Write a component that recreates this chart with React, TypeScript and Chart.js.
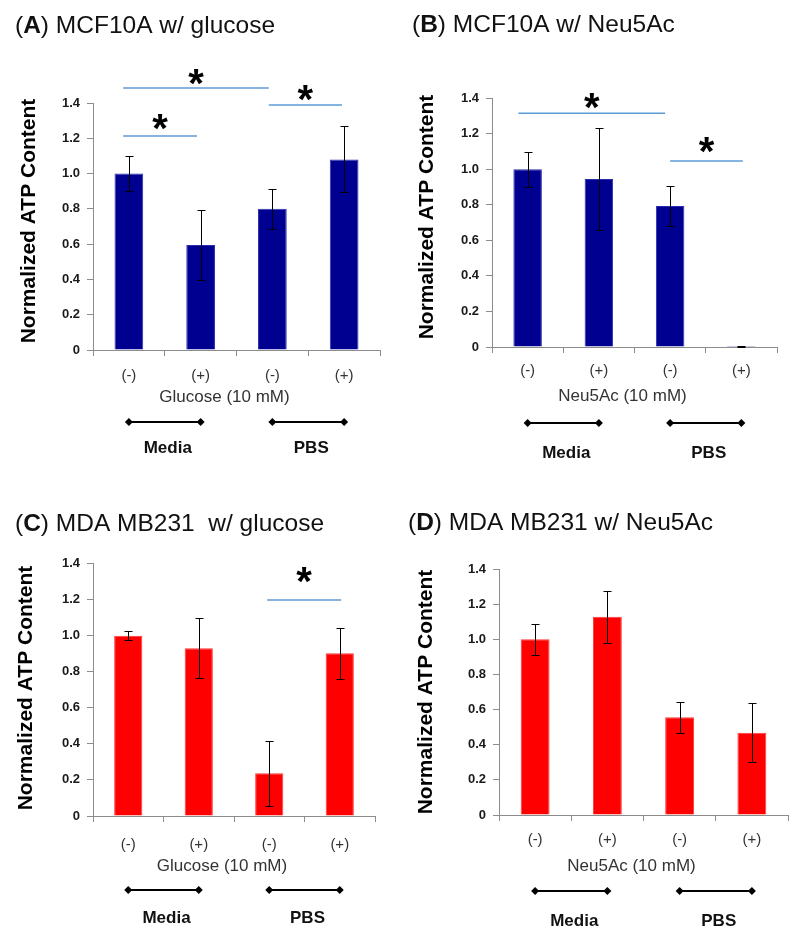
import React, { useEffect, useRef } from 'react';
import { Chart, registerables } from 'chart.js';

Chart.register(...registerables);

// ---------- data ----------
const categories = ['(-)', '(+)', '(-)', '(+)'];
const groupLabels = ['Media', 'PBS'];
const yTickValues = [0, 0.2, 0.4, 0.6, 0.8, 1.0, 1.2, 1.4];
const yTickLabels = ['0', '0.2', '0.4', '0.6', '0.8', '1.0', '1.2', '1.4'];
const yAxisTitle = 'Normalized ATP Content';

const valuesA = [1.0, 0.595, 0.8, 1.08];
const errorsA = [0.097, 0.197, 0.115, 0.187];
const valuesB = [1.0, 0.945, 0.793, 0.005];
const errorsB = [0.098, 0.286, 0.11, 0.003];
const valuesC = [0.998, 0.928, 0.236, 0.9];
const errorsC = [0.025, 0.165, 0.18, 0.142];
const valuesD = [1.0, 1.128, 0.556, 0.468];
const errorsD = [0.088, 0.147, 0.089, 0.167];

// significance bars: from/to in category index units, y and star height in data units
const sigA = [
  { from: -0.08, to: 0.95, y: 1.213, starY: 1.292 },
  { from: -0.08, to: 1.95, y: 1.485, starY: 1.548 },
  { from: 1.95, to: 2.97, y: 1.389, starY: 1.457 },
];
const sigB = [
  { from: -0.13, to: 1.93, y: 1.314, starY: 1.383 },
  { from: 2.0, to: 3.02, y: 1.046, starY: 1.135 },
];
const sigC = [{ from: 1.97, to: 3.02, y: 1.195, starY: 1.334 }];
const sigD: { from: number; to: number; y: number; starY: number }[] = [];

const FONT = '"Liberation Sans", Arial, Helvetica, sans-serif';

type Panel = {
  letter: string;
  rest: string;
  xTitle: string;
  values: number[];
  errors: number[];
  sigs: { from: number; to: number; y: number; starY: number }[];
  color: string;
  edge: string;
  left: number; top: number; w: number; h: number;
  area: { l: number; r: number; t: number; b: number };
  titleX: number; titleBase: number;
  yTitleX: number; yTitleY: number;
  tickPad: number;
  xTitleY: number;
  bracketY: number;
  groupY: number;
};

const panels: Panel[] = [
  {
    letter: 'A', rest: ') MCF10A w/ glucose', xTitle: 'Glucose (10 mM)',
    values: valuesA, errors: errorsA, sigs: sigA, color: '#000090', edge: '#2b2bb0',
    left: 0, top: 0, w: 400, h: 470, area: { l: 93, r: 380, t: 103, b: 350 },
    titleX: 15, titleBase: 33, yTitleX: 35, yTitleY: 221, tickPad: 11,
    xTitleY: 396, bracketY: 422, groupY: 447,
  },
  {
    letter: 'B', rest: ') MCF10A w/ Neu5Ac', xTitle: 'Neu5Ac (10 mM)',
    values: valuesB, errors: errorsB, sigs: sigB, color: '#000090', edge: '#2b2bb0',
    left: 400, top: 0, w: 400, h: 470, area: { l: 92, r: 377, t: 98, b: 347 },
    titleX: 12, titleBase: 32, yTitleX: 33, yTitleY: 217, tickPad: 9,
    xTitleY: 395, bracketY: 423, groupY: 452,
  },
  {
    letter: 'C', rest: ') MDA MB231  w/ glucose', xTitle: 'Glucose (10 mM)',
    values: valuesC, errors: errorsC, sigs: sigC, color: '#ff0000', edge: '#ff3a3a',
    left: 0, top: 470, w: 400, h: 467, area: { l: 93, r: 375, t: 93, b: 346 },
    titleX: 15, titleBase: 61, yTitleX: 32, yTitleY: 218, tickPad: 14,
    xTitleY: 395, bracketY: 420, groupY: 447,
  },
  {
    letter: 'D', rest: ') MDA MB231 w/ Neu5Ac', xTitle: 'Neu5Ac (10 mM)',
    values: valuesD, errors: errorsD, sigs: sigD, color: '#ff0000', edge: '#ff3a3a',
    left: 400, top: 470, w: 400, h: 467, area: { l: 99, r: 388, t: 99, b: 345 },
    titleX: 8, titleBase: 60, yTitleX: 32, yTitleY: 222, tickPad: 10,
    xTitleY: 395, bracketY: 421, groupY: 450,
  },
];

function idxPixel(xs: any, f: number) {
  const p0 = xs.getPixelForValue(0);
  const p1 = xs.getPixelForValue(1);
  return p0 + f * (p1 - p0);
}

function makePlugin(p: Panel) {
  return {
    id: 'panelDecor' + p.letter,
    afterDraw(chart: any) {
      const ctx: CanvasRenderingContext2D = chart.ctx;
      const xs = chart.scales.x;
      const ys = chart.scales.y;
      const area = chart.chartArea;
      const data: number[] = chart.data.datasets[0].data;
      ctx.save();

      // error bars
      ctx.strokeStyle = '#000';
      ctx.lineWidth = 1;
      p.errors.forEach((e, i) => {
        if (!e) return;
        const v = data[i];
        const px = Math.round(xs.getPixelForValue(i)) + 0.5;
        const yt = Math.round(ys.getPixelForValue(v + e)) + 0.5;
        const yb = Math.round(ys.getPixelForValue(v - e)) + 0.5;
        ctx.beginPath();
        ctx.moveTo(px, yt); ctx.lineTo(px, yb);
        ctx.moveTo(px - 4, yt); ctx.lineTo(px + 4, yt);
        ctx.moveTo(px - 4, yb); ctx.lineTo(px + 4, yb);
        ctx.stroke();
      });

      // significance lines and stars
      p.sigs.forEach((s) => {
        const x1 = idxPixel(xs, s.from);
        const x2 = idxPixel(xs, s.to);
        const yy = ys.getPixelForValue(s.y);
        ctx.strokeStyle = '#5b9bd5';
        ctx.lineWidth = 1.6;
        ctx.beginPath();
        ctx.moveTo(x1, yy); ctx.lineTo(x2, yy);
        ctx.stroke();
        const sy = ys.getPixelForValue(s.starY);
        ctx.font = 'bold 40px ' + FONT;
        ctx.fillStyle = '#000';
        ctx.textAlign = 'center';
        ctx.textBaseline = 'alphabetic';
        const m = ctx.measureText('*');
        const asc = m.actualBoundingBoxAscent, desc = m.actualBoundingBoxDescent;
        ctx.fillText('*', (x1 + x2) / 2, sy + (asc - desc) / 2);
      });

      // panel title
      ctx.textAlign = 'left';
      ctx.textBaseline = 'alphabetic';
      ctx.fillStyle = '#111';
      let tx = p.titleX;
      const parts: [string, string][] = [['(', ''], [p.letter, 'bold '], [p.rest, '']];
      parts.forEach(([t, w]) => {
        ctx.font = w + '24.5px ' + FONT;
        ctx.fillText(t, tx, p.titleBase);
        tx += ctx.measureText(t).width;
      });

      // y axis title
      ctx.save();
      ctx.translate(p.yTitleX, p.yTitleY);
      ctx.rotate(-Math.PI / 2);
      ctx.font = 'bold 21px ' + FONT;
      ctx.textAlign = 'center';
      ctx.textBaseline = 'alphabetic';
      ctx.fillStyle = '#000';
      ctx.fillText(yAxisTitle, 0, 0);
      ctx.restore();

      // x axis title
      const mid = (area.left + area.right) / 2 - 12;
      ctx.font = '17px ' + FONT;
      ctx.fillStyle = '#333';
      ctx.textAlign = 'center';
      ctx.textBaseline = 'alphabetic';
      ctx.fillText(p.xTitle, mid, p.xTitleY + 6);

      // group brackets
      groupLabels.forEach((g, gi) => {
        const a = xs.getPixelForValue(gi * 2);
        const b = xs.getPixelForValue(gi * 2 + 1);
        const y = p.bracketY;
        ctx.strokeStyle = '#000';
        ctx.lineWidth = 2;
        ctx.beginPath();
        ctx.moveTo(a, y); ctx.lineTo(b, y);
        ctx.stroke();
        ctx.fillStyle = '#000';
        [a, b].forEach((cx) => {
          ctx.beginPath();
          ctx.moveTo(cx - 4, y); ctx.lineTo(cx, y - 4);
          ctx.lineTo(cx + 4, y); ctx.lineTo(cx, y + 4);
          ctx.closePath();
          ctx.fill();
        });
        ctx.font = 'bold 17px ' + FONT;
        ctx.fillStyle = '#111';
        ctx.textAlign = 'center';
        ctx.textBaseline = 'alphabetic';
        ctx.fillText(g, (a + b) / 2 + 3, p.groupY + 6);
      });

      ctx.restore();
    },
  };
}

function PanelChart({ p }: { p: Panel }) {
  const ref = useRef<HTMLCanvasElement>(null);
  useEffect(() => {
    if (!ref.current) return;
    const axisColor = '#8c8c8c';
    const chart = new Chart(ref.current, {
      type: 'bar',
      data: {
        labels: categories,
        datasets: [
          {
            data: p.values,
            backgroundColor: p.color,
            borderColor: p.edge,
            borderWidth: 1,
            barPercentage: 0.4,
            categoryPercentage: 1,
          },
        ],
      },
      options: {
        responsive: false,
        animation: false,
        events: [],
        layout: { padding: { left: 0, right: p.w - p.area.r, top: p.area.t, bottom: 0 } },
        plugins: { legend: { display: false }, tooltip: { enabled: false }, title: { display: false } },
        scales: {
          x: {
            type: 'category',
            offset: true,
            grid: { display: true, drawOnChartArea: false, drawTicks: true, tickLength: 6, color: axisColor, offset: true },
            border: { display: true, color: axisColor, width: 1 },
            ticks: { color: '#333', font: { family: FONT, size: 15 }, padding: p.tickPad, maxRotation: 0 },
            afterFit: (s: any) => { s.height = p.h - p.area.b; },
          },
          y: {
            min: 0,
            max: 1.4,
            grid: { display: true, drawOnChartArea: false, drawTicks: true, tickLength: 6, color: axisColor },
            border: { display: true, color: axisColor, width: 1 },
            afterBuildTicks: (s: any) => { s.ticks = yTickValues.map((v) => ({ value: v })); },
            ticks: {
              color: '#1a1a1a',
              font: { family: FONT, size: 13, weight: 'bold' },
              padding: 7,
              callback: (_v: any, i: number) => yTickLabels[i],
            },
            afterFit: (s: any) => { s.width = p.area.l; },
          },
        },
      },
      plugins: [makePlugin(p)],
    } as any);
    return () => chart.destroy();
  }, [p]);
  return (
    <canvas
      ref={ref}
      width={p.w}
      height={p.h}
      style={{ position: 'absolute', left: p.left, top: p.top, width: p.w, height: p.h }}
    />
  );
}

export default function App() {
  return (
    <div style={{ position: 'fixed', left: 0, top: 0, width: 800, height: 937, background: '#fff', overflow: 'hidden' }}>
      {panels.map((p) => (
        <PanelChart key={p.letter} p={p} />
      ))}
    </div>
  );
}
